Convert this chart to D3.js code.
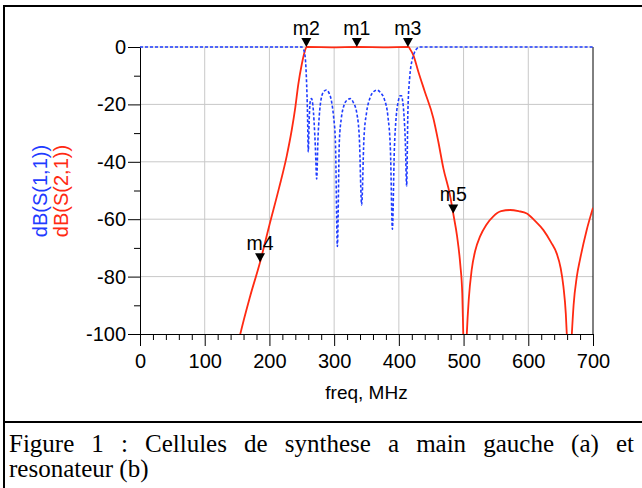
<!DOCTYPE html>
<html>
<head>
<meta charset="utf-8">
<script src="https://cdn.jsdelivr.net/npm/d3@7"></script>
<style>
  html, body { margin: 0; padding: 0; background: #fff; }
  svg { display: block; }
  text { font-family: "Liberation Sans", Arial, sans-serif; }
</style>
</head>
<body>
<svg id="chart" width="642" height="488"></svg>
<script>
// ---- data ----
const s11Freq = [0, 250, 252, 255, 257, 259, 260, 261.5, 263, 265, 267, 269, 271, 273, 275, 277, 280, 284, 288, 292, 296, 299, 302, 305, 308, 311, 315, 320, 325, 330, 335, 339, 342.5, 346, 350, 355, 360, 366, 372, 378, 383, 387, 390, 393, 396, 399, 402, 404, 406, 408, 410, 412, 414, 417, 420, 424, 428, 432, 700];
const s11dB   = [0, 0, -0.5, -3, -10, -25, -36.5, -25, -19, -18, -20, -26, -35, -46, -32, -24, -18, -15.5, -15, -16, -19, -24, -33, -69.5, -33, -25, -20.5, -18.5, -18, -19.5, -23, -32, -55, -32, -23, -18, -15.8, -15, -16, -18.5, -24, -36, -63.5, -36, -24, -19, -17, -17, -19, -24, -33, -48.5, -22, -10, -5, -2, -0.5, 0, 0];

const s21Freq = [150, 155, 170, 185.5, 200, 215, 226.7, 234.4, 240, 244.6, 250, 254, 257.6, 300, 335, 380, 414.8, 418, 422.3, 430, 440, 453.3, 461, 468.8, 479, 484, 490, 495, 498, 499.5, 502, 505, 508, 512.5, 518, 525.5, 535, 546, 558, 572, 585, 597.7, 610, 623.4, 635, 644, 650, 654.3, 658, 659.5, 663, 667.3, 670, 675, 680, 690, 700];
const s21dB   = [-105, -100, -87, -75, -62, -49, -38, -29, -21, -13, -6, -2, 0, -0.1, 0, -0.1, 0, -1, -2.8, -8.5, -15.5, -24.8, -33, -42.3, -51.6, -58, -66, -76, -86, -100, -120, -100, -88, -77.7, -71, -66, -62, -59, -57.2, -56.8, -57.2, -58, -60.5, -63.8, -68, -72, -77, -83.5, -93, -100, -120, -100, -90, -80, -74, -64, -56];

const markerNames = ["m1", "m2", "m3", "m4", "m5"];
const markerFreq  = [335, 257, 414, 185.5, 484];
const markerDB    = [0, 0, 0, -75, -58];

const xTicks = [0, 100, 200, 300, 400, 500, 600, 700];
const yTicks = [-100, -80, -60, -40, -20, 0];
const xMinor = [20, 40, 60, 80, 120, 140, 160, 180, 220, 240, 260, 280, 320, 340, 360, 380, 420, 440, 460, 480, 520, 540, 560, 580, 620, 640, 660, 680];
const yMinor = [-90, -70, -50, -30, -10];

const captionLines = ["Figure 1 : Cellules de synthese a main gauche (a) et", "resonateur (b)"];

// ---- drawing ----
const svg = d3.select("#chart");
const BLUE = "#1f3cff", RED = "#ff2a12";
const x = d3.scaleLinear().domain([0, 700]).range([140, 593]);
const y = d3.scaleLinear().domain([-100, 0]).range([334, 47]);

// outer frame
svg.append("line").attr("x1", 4).attr("x2", 642).attr("y1", 6).attr("y2", 6).attr("stroke", "#000").attr("stroke-width", 2);
svg.append("line").attr("x1", 4).attr("x2", 4).attr("y1", 5).attr("y2", 488).attr("stroke", "#000").attr("stroke-width", 2);
svg.append("line").attr("x1", 4).attr("x2", 642).attr("y1", 422).attr("y2", 422).attr("stroke", "#000").attr("stroke-width", 2);

// grid
const grid = svg.append("g").attr("stroke", "#c8c8c8").attr("stroke-width", 1);
grid.selectAll(".gx").data(xTicks.slice(1, -1)).enter().append("line")
  .attr("x1", d => x(d)).attr("x2", d => x(d)).attr("y1", y(0)).attr("y2", y(-100));
grid.selectAll(".gy").data(yTicks.slice(1)).enter().append("line")
  .attr("x1", x(0)).attr("x2", x(700)).attr("y1", d => y(d)).attr("y2", d => y(d));

// axes
const fmt = d => String(d);
const xAxisMinor = d3.axisBottom(x).tickValues(xMinor).tickSize(6).tickFormat("").tickSizeOuter(0);
const xAxis = d3.axisBottom(x).tickValues(xTicks).tickSize(12).tickPadding(8).tickSizeOuter(0).tickFormat(fmt);
const yAxisMinor = d3.axisLeft(y).tickValues(yMinor).tickSize(6).tickFormat("").tickSizeOuter(0);
const yAxis = d3.axisLeft(y).tickValues(yTicks).tickSize(12).tickPadding(2).tickSizeOuter(0).tickFormat(fmt);

function styleAxis(g) {
  g.selectAll("text").attr("font-size", 20).attr("fill", "#000").style("font-family", "'Liberation Sans', Arial, sans-serif");
  g.selectAll("line,path").attr("stroke", "#000");
}
svg.append("g").attr("transform", `translate(0,${y(-100)})`).call(xAxisMinor).call(styleAxis);
svg.append("g").attr("transform", `translate(0,${y(-100)})`).call(xAxis).call(styleAxis);
svg.append("g").attr("transform", `translate(${x(0)},0)`).call(yAxisMinor).call(styleAxis);
svg.append("g").attr("transform", `translate(${x(0)},0)`).call(yAxis).call(styleAxis);
// right border
svg.append("line").attr("x1", x(700)).attr("x2", x(700)).attr("y1", y(0)).attr("y2", y(-100)).attr("stroke", "#000");

// clip
svg.append("clipPath").attr("id", "clip").append("rect")
  .attr("x", x(0)).attr("y", y(0) - 4).attr("width", x(700) - x(0)).attr("height", y(-100) - y(0) + 4);

const s21 = s21Freq.map((f, i) => [f, s21dB[i]]);
const s11 = s11Freq.map((f, i) => [f, s11dB[i]]);
const line = d3.line().x(d => x(d[0])).y(d => y(d[1])).curve(d3.curveMonotoneX);

svg.append("path").datum(s21).attr("clip-path", "url(#clip)")
  .attr("d", line).attr("fill", "none").attr("stroke", RED).attr("stroke-width", 1.8);
svg.append("path").datum(s11).attr("clip-path", "url(#clip)")
  .attr("d", line).attr("fill", "none").attr("stroke", BLUE).attr("stroke-width", 1.6)
  .attr("stroke-dasharray", "3,2");

// markers
const mk = svg.append("g");
markerNames.forEach((n, i) => {
  const px = x(markerFreq[i]), py = y(markerDB[i]);
  mk.append("path").attr("d", `M${px - 5},${py - 9}L${px + 5},${py - 9}L${px},${py}Z`).attr("fill", "#000");
  mk.append("text").attr("x", px).attr("y", py - 12).attr("text-anchor", "middle")
    .attr("font-size", 19.5).attr("fill", "#000").text(n);
});

// axis titles
svg.append("text").attr("x", (x(0) + x(700)) / 2).attr("y", 399).attr("text-anchor", "middle")
  .attr("font-size", 19).attr("fill", "#000").text("freq, MHz");
svg.append("text").attr("transform", "translate(47,191) rotate(-90)").attr("text-anchor", "middle")
  .attr("font-size", 20).attr("fill", BLUE).text("dB(S(1,1))");
svg.append("text").attr("transform", "translate(68,191) rotate(-90)").attr("text-anchor", "middle")
  .attr("font-size", 20).attr("fill", RED).text("dB(S(2,1))");

// caption (line 1 justified by word spacing)
const cap1 = svg.append("text").attr("x", 9).attr("y", 452).attr("font-size", 25)
  .style("font-family", "'Liberation Serif', 'Times New Roman', serif").text(captionLines[0]);
const natural = cap1.node().getComputedTextLength();
const gaps = captionLines[0].split(" ").length - 1;
cap1.attr("word-spacing", Math.max(0, (625 - natural) / gaps));
svg.append("text").attr("x", 9).attr("y", 477).attr("font-size", 25)
  .style("font-family", "'Liberation Serif', 'Times New Roman', serif").text(captionLines[1]);
</script>
</body>
</html>
